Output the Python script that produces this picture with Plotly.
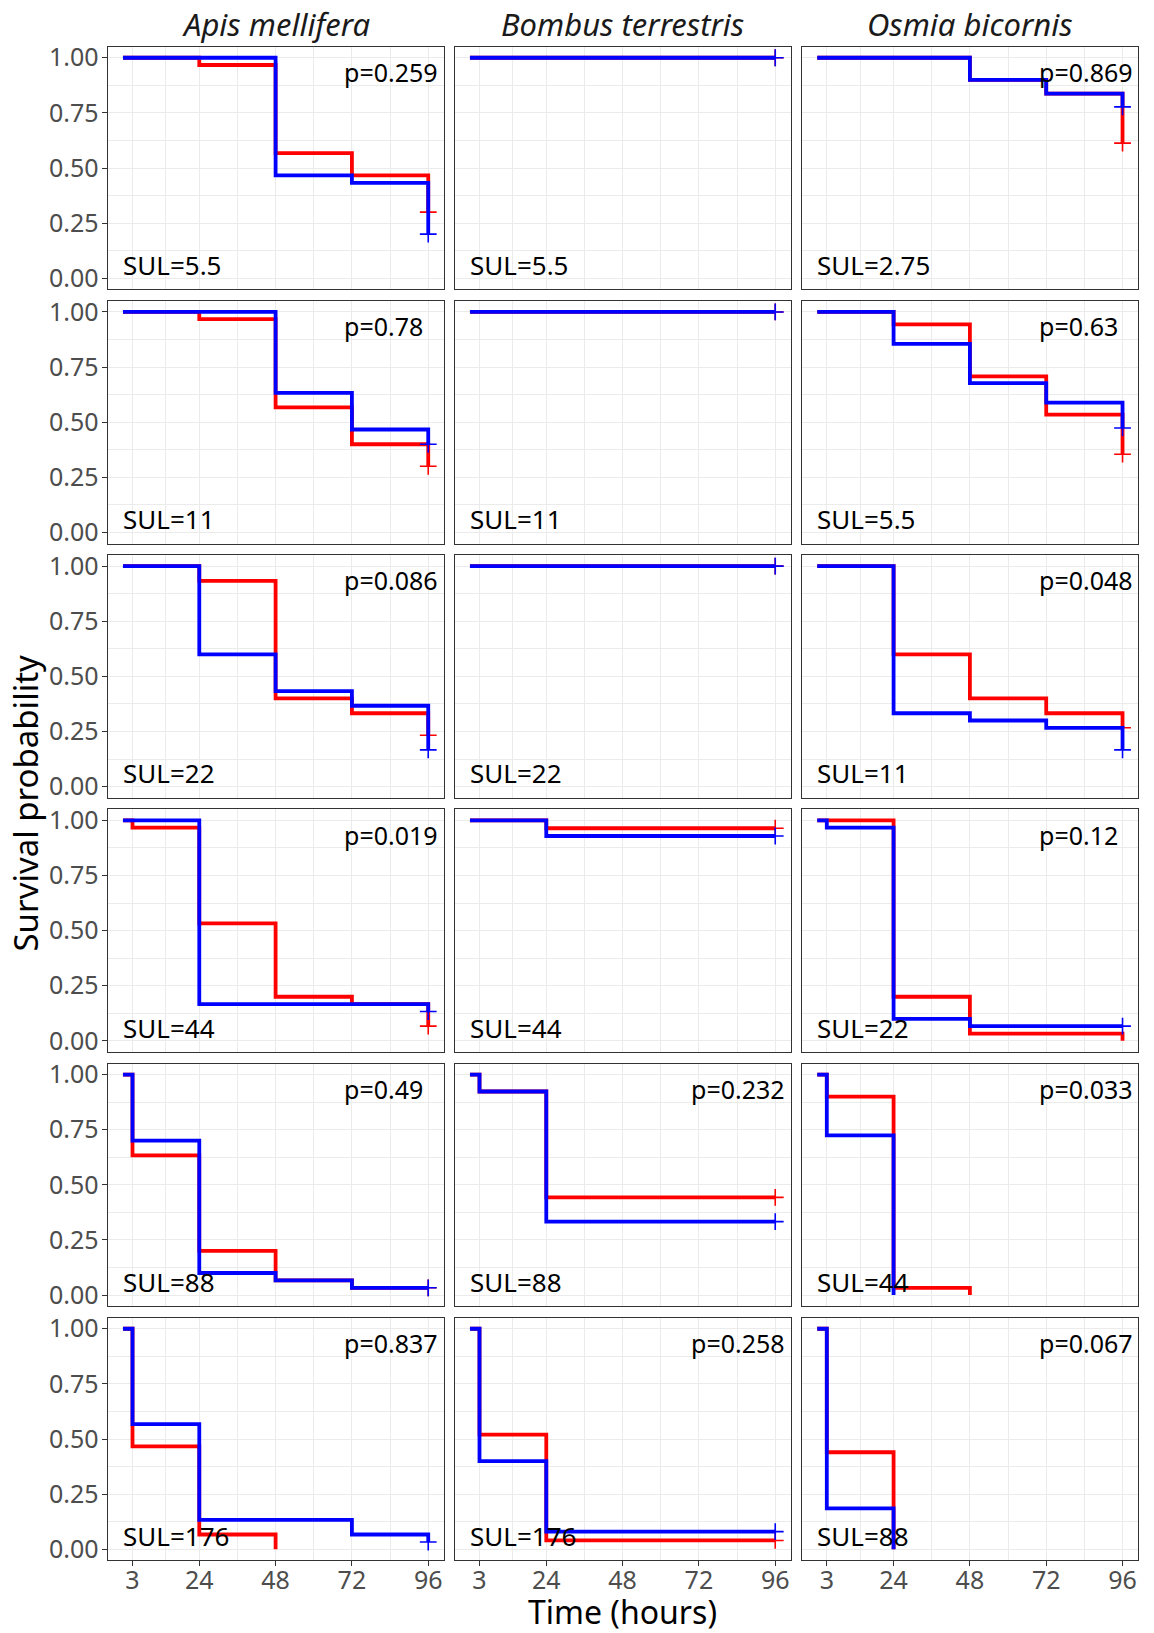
import plotly.graph_objects as go

# ---------------- data ----------------
species = ["Apis mellifera", "Bombus terrestris", "Osmia bicornis"]
times = [0, 3, 24, 48, 72, 96]
x_ticks = [3, 24, 48, 72, 96]
y_ticks = [0, 0.25, 0.5, 0.75, 1.0]
y_tick_labels = ["0.00", "0.25", "0.50", "0.75", "1.00"]

sul_apis = ["5.5", "11", "22", "44", "88", "176"]
sul_bombus = ["5.5", "11", "22", "44", "88", "176"]
sul_osmia = ["2.75", "5.5", "11", "22", "44", "88"]

p_apis = ["0.259", "0.78", "0.086", "0.019", "0.49", "0.837"]
p_bombus = ["", "", "", "", "0.232", "0.258"]
p_osmia = ["0.869", "0.63", "0.048", "0.12", "0.033", "0.067"]

# survival probability at times 0,3,24,48,72,96 (None = curve ended)
red_apis = [
    [1, 1, 0.967, 0.567, 0.467, 0.3],
    [1, 1, 0.967, 0.567, 0.4, 0.3],
    [1, 1, 0.933, 0.4, 0.333, 0.233],
    [1, 0.967, 0.533, 0.2, 0.167, 0.067],
    [1, 0.633, 0.2, 0.067, 0.033, 0.033],
    [1, 0.467, 0.067, 0, None, None],
]
blue_apis = [
    [1, 1, 1, 0.467, 0.433, 0.2],
    [1, 1, 1, 0.633, 0.467, 0.4],
    [1, 1, 0.6, 0.433, 0.367, 0.167],
    [1, 1, 0.167, 0.167, 0.167, 0.133],
    [1, 0.7, 0.1, 0.067, 0.033, 0.033],
    [1, 0.567, 0.133, 0.133, 0.067, 0.033],
]
red_bombus = [
    [1, 1, 1, 1, 1, 1],
    [1, 1, 1, 1, 1, 1],
    [1, 1, 1, 1, 1, 1],
    [1, 1, 0.964, 0.964, 0.964, 0.964],
    [1, 0.923, 0.443, 0.443, 0.443, 0.443],
    [1, 0.52, 0.04, 0.04, 0.04, 0.04],
]
blue_bombus = [
    [1, 1, 1, 1, 1, 1],
    [1, 1, 1, 1, 1, 1],
    [1, 1, 1, 1, 1, 1],
    [1, 1, 0.929, 0.929, 0.929, 0.929],
    [1, 0.923, 0.333, 0.333, 0.333, 0.333],
    [1, 0.4, 0.08, 0.08, 0.08, 0.08],
]
red_osmia = [
    [1, 1, 1, 0.9, 0.837, 0.613],
    [1, 1, 0.944, 0.708, 0.534, 0.355],
    [1, 1, 0.6, 0.4, 0.333, 0.267],
    [1, 1, 0.2, 0.033, 0.033, 0],
    [1, 0.9, 0.033, 0, None, None],
    [1, 0.44, 0, None, None, None],
]
blue_osmia = [
    [1, 1, 1, 0.9, 0.837, 0.777],
    [1, 1, 0.855, 0.677, 0.589, 0.474],
    [1, 1, 0.333, 0.3, 0.267, 0.167],
    [1, 0.967, 0.1, 0.067, 0.067, 0.067],
    [1, 0.724, 0, None, None, None],
    [1, 0.185, 0, None, None, None],
]
# censoring mark at 96 h
cens_red_apis = [True, True, True, True, True, False]
cens_blue_apis = [True, True, True, True, True, True]
cens_red_bombus = [True] * 6
cens_blue_bombus = [True] * 6
cens_red_osmia = [True, True, True, False, False, False]
cens_blue_osmia = [True, True, True, True, False, False]

sul = [sul_apis, sul_bombus, sul_osmia]
pvals = [p_apis, p_bombus, p_osmia]
reds = [red_apis, red_bombus, red_osmia]
blues = [blue_apis, blue_bombus, blue_osmia]
cens_r = [cens_red_apis, cens_red_bombus, cens_red_osmia]
cens_b = [cens_blue_apis, cens_blue_bombus, cens_blue_osmia]

# ---------------- layout geometry ----------------
W, H = 1154, 1633
col_left = [107.7, 454.7, 802.0]
panel_w = 335.8
row_top = [46.7 + 254.2 * i for i in range(6)]
panel_h = 242.6

FONT = "Noto Sans"
RED = "#FF0000"
BLUE = "#0000FF"
GRID = "#EBEBEB"
BORDER = "#333333"

fig = go.Figure()
annotations = []
layout = {}

for r in range(6):
    for c in range(3):
        k = r * 3 + c + 1
        xa = "x" if k == 1 else f"x{k}"
        ya = "y" if k == 1 else f"y{k}"
        xkey = "xaxis" if k == 1 else f"xaxis{k}"
        ykey = "yaxis" if k == 1 else f"yaxis{k}"
        left = col_left[c]
        top = row_top[r]
        bottom_row = (r == 5)
        left_col = (c == 0)
        layout[xkey] = dict(
            domain=[left / W, (left + panel_w) / W],
            anchor=ya,
            range=[-4.8, 100.8],
            tickvals=x_ticks,
            ticktext=[str(t) for t in x_ticks],
            showticklabels=bottom_row,
            ticks="outside" if bottom_row else "",
            ticklen=5, tickwidth=1.2, tickcolor=BORDER,
            ticklabelstandoff=-7,
            tickfont=dict(family=FONT, size=25, color="#4D4D4D"),
            showgrid=True, gridcolor=GRID, gridwidth=1.3,
            minor=dict(tickvals=[13.5, 36, 60, 84], showgrid=True,
                       gridcolor=GRID, gridwidth=0.7, ticks=""),
            zeroline=False, automargin=False,
            showline=True, mirror=True, linecolor=BORDER, linewidth=1.2,
            fixedrange=True,
        )
        layout[ykey] = dict(
            domain=[1 - (top + panel_h) / H, 1 - top / H],
            anchor=xa,
            range=[-0.05, 1.05],
            tickvals=y_ticks,
            ticktext=y_tick_labels,
            showticklabels=left_col,
            ticks="outside" if left_col else "",
            ticklen=5, tickwidth=1.2, tickcolor=BORDER,
            ticklabelstandoff=-2,
            tickfont=dict(family=FONT, size=25, color="#4D4D4D"),
            showgrid=True, gridcolor=GRID, gridwidth=1.3,
            minor=dict(tickvals=[0.125, 0.375, 0.625, 0.875], showgrid=True,
                       gridcolor=GRID, gridwidth=0.7, ticks=""),
            zeroline=False, automargin=False,
            showline=True, mirror=True, linecolor=BORDER, linewidth=1.2,
            fixedrange=True,
        )

        for vals, cens, col in ((reds[c][r], cens_r[c][r], RED),
                                (blues[c][r], cens_b[c][r], BLUE)):
            fig.add_trace(go.Scatter(
                x=times, y=vals, xaxis=xa, yaxis=ya, mode="lines",
                line=dict(color=col, width=3.8, shape="hv"),
                connectgaps=False, showlegend=False, hoverinfo="skip"))
            if cens:
                fig.add_trace(go.Scatter(
                    x=[times[-1]], y=[vals[-1]], xaxis=xa, yaxis=ya,
                    mode="markers",
                    marker=dict(symbol="cross-thin", size=12,
                                line=dict(color=col, width=1.6)),
                    showlegend=False, hoverinfo="skip"))

        annotations.append(dict(
            x=-0.6, y=0.06, xref=xa, yref=ya, text=f"SUL={sul[c][r]}",
            showarrow=False, xanchor="left", yanchor="middle",
            font=dict(family=FONT, size=26, color="black")))
        if pvals[c][r]:
            annotations.append(dict(
                x=69, y=0.935, xref=xa, yref=ya, text=f"p={pvals[c][r]}",
                showarrow=False, xanchor="left", yanchor="middle",
                font=dict(family=FONT, size=25, color="black")))

# strip titles
for c in range(3):
    annotations.append(dict(
        x=(col_left[c] + panel_w / 2) / W, y=1 - 23.5 / H,
        xref="paper", yref="paper", text=f"<i>{species[c]}</i>",
        showarrow=False, xanchor="center", yanchor="middle",
        font=dict(family=FONT, size=31, color="#1A1A1A")))

# axis titles
annotations.append(dict(
    x=(col_left[0] + col_left[2] + panel_w) / 2 / W, y=1 - 1611 / H,
    xref="paper", yref="paper", text="Time (hours)", showarrow=False,
    xanchor="center", yanchor="middle", borderpad=0,
    font=dict(family=FONT, size=32, color="black")))
annotations.append(dict(
    x=25 / W, y=1 - (row_top[0] + row_top[5] + panel_h) / 2 / H,
    xref="paper", yref="paper", text="Survival probability", showarrow=False,
    textangle=-90, xanchor="center", yanchor="middle",
    font=dict(family=FONT, size=33, color="black")))

fig.update_layout(
    width=W, height=H, autosize=False,
    margin=dict(l=0, r=0, t=0, b=0, autoexpand=False),
    paper_bgcolor="white", plot_bgcolor="white",
    showlegend=False,
    annotations=annotations,
    **layout,
)

fig.write_html("out.html",
               config={"displayModeBar": False},
               post_script="document.body.style.margin='0';")
